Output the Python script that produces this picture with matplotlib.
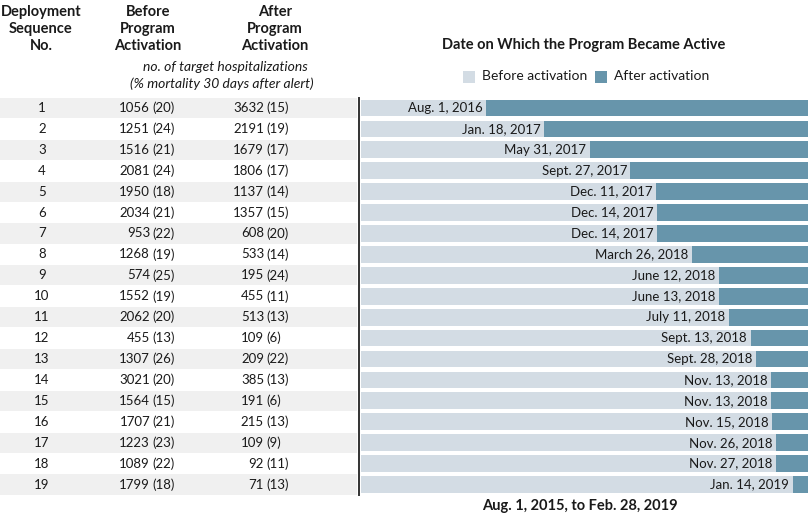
import matplotlib
matplotlib.use("Agg")
import matplotlib.pyplot as plt
import matplotlib.dates as mdates
from matplotlib.patches import Rectangle
import datetime as dt

# ---------------- data ----------------
seq_no = list(range(1, 20))
before_n = [1056, 1251, 1516, 2081, 1950, 2034, 953, 1268, 574, 1552,
            2062, 455, 1307, 3021, 1564, 1707, 1223, 1089, 1799]
before_mort = [20, 24, 21, 24, 18, 21, 22, 19, 25, 19,
               20, 13, 26, 20, 15, 21, 23, 22, 18]
after_n = [3632, 2191, 1679, 1806, 1137, 1357, 608, 533, 195, 455,
           513, 109, 209, 385, 191, 215, 109, 92, 71]
after_mort = [15, 19, 17, 17, 14, 15, 20, 14, 24, 11,
              13, 6, 22, 13, 6, 13, 9, 11, 13]
activation_dates = ["2016-08-01", "2017-01-18", "2017-05-31", "2017-09-27",
                    "2017-12-11", "2017-12-14", "2017-12-14", "2018-03-26",
                    "2018-06-12", "2018-06-13", "2018-07-11", "2018-09-13",
                    "2018-09-28", "2018-11-13", "2018-11-13", "2018-11-15",
                    "2018-11-26", "2018-11-27", "2019-01-14"]
date_labels = ["Aug. 1, 2016", "Jan. 18, 2017", "May 31, 2017", "Sept. 27, 2017",
               "Dec. 11, 2017", "Dec. 14, 2017", "Dec. 14, 2017", "March 26, 2018",
               "June 12, 2018", "June 13, 2018", "July 11, 2018", "Sept. 13, 2018",
               "Sept. 28, 2018", "Nov. 13, 2018", "Nov. 13, 2018", "Nov. 15, 2018",
               "Nov. 26, 2018", "Nov. 27, 2018", "Jan. 14, 2019"]
period_start = "2015-08-01"
period_end = "2019-02-28"

# ---------------- styling ----------------
FONT = ["Lato", "DejaVu Sans"]
plt.rcParams["font.family"] = FONT
C_BEFORE = "#d3dce4"
C_AFTER = "#6795ab"
C_STRIPE = "#f0f0f0"
C_TEXT = "#1a1a1a"

W, H = 810, 518
fig = plt.figure(figsize=(W / 100, H / 100), dpi=100)


def fx(px):
    return px / W


def fy(py):
    return 1 - py / H


row_top, row_bot = 97.5, 495.0
n = len(seq_no)

# ---------------- table axes ----------------
tab_w = 357
axt = fig.add_axes([0, fy(row_bot), fx(tab_w), (row_bot - row_top) / H])
axt.set_xlim(0, tab_w)
axt.set_ylim(n + 0.5, 0.5)
axt.axis("off")

for i, s in enumerate(seq_no):
    y = s
    if s % 2 == 1:
        axt.add_patch(Rectangle((0, y - 0.48), tab_w, 0.96, color=C_STRIPE, lw=0))
    axt.text(42, y, str(s), ha="center", va="center", fontsize=9.5, color=C_TEXT)
    axt.text(150, y, str(before_n[i]), ha="right", va="center", fontsize=9.5, color=C_TEXT)
    axt.text(152.5, y, f"({before_mort[i]})", ha="left", va="center", fontsize=9.5, color=C_TEXT)
    axt.text(264, y, str(after_n[i]), ha="right", va="center", fontsize=9.5, color=C_TEXT)
    axt.text(266.5, y, f"({after_mort[i]})", ha="left", va="center", fontsize=9.5, color=C_TEXT)

# divider line
fig.add_artist(plt.Line2D([fx(359.3), fx(359.3)], [fy(row_top), fy(row_bot)],
                          color="#333333", lw=1.4))

# ---------------- bar axes ----------------
bx0, bx1 = 361, 808
axb = fig.add_axes([fx(bx0), fy(row_bot), (bx1 - bx0) / W, (row_bot - row_top) / H])
start = mdates.date2num(dt.datetime.fromisoformat(period_start))
end = mdates.date2num(dt.datetime.fromisoformat(period_end))
acts = [mdates.date2num(dt.datetime.fromisoformat(d)) for d in activation_dates]

axb.barh(seq_no, [a - start for a in acts], left=start, height=0.8,
         color=C_BEFORE, lw=0)
axb.barh(seq_no, [end - a for a in acts], left=acts, height=0.8,
         color=C_AFTER, lw=0)
for s, a, lab in zip(seq_no, acts, date_labels):
    axb.annotate(lab, (a, s), xytext=(-2.5, 0), textcoords="offset points",
                 ha="right", va="center", fontsize=9.5, color=C_TEXT)
axb.set_xlim(start, end)
axb.set_ylim(n + 0.5, 0.5)
axb.axis("off")

# ---------------- headers ----------------
hdr = dict(ha="center", va="center", fontsize=10.5, fontweight="bold", color=C_TEXT)
for k, line in enumerate(["Deployment", "Sequence", "No."]):
    fig.text(fx(41), fy(12 + 17 * k), line, **hdr)
for k, line in enumerate(["Before", "Program", "Activation"]):
    fig.text(fx(148), fy(12 + 17 * k), line, **hdr)
for k, line in enumerate(["After", "Program", "Activation"]):
    fig.text(fx(275), fy(12 + 17 * k), line, **hdr)

ita = dict(ha="center", va="center", fontsize=10, style="italic", color=C_TEXT)
fig.text(fx(225), fy(67), "no. of target hospitalizations", **ita)
fig.text(fx(222), fy(84), "(% mortality 30 days after alert)", **ita)

fig.text(fx(584), fy(45), "Date on Which the Program Became Active", **hdr)
fig.text(fx(580), fy(506), "Aug. 1, 2015, to Feb. 28, 2019", **hdr)

# legend
for x0, col, lab in [(463, C_BEFORE, "Before activation"), (595, C_AFTER, "After activation")]:
    fig.add_artist(Rectangle((fx(x0), fy(82.5)), 11.5 / W, 11.5 / H,
                             transform=fig.transFigure, color=col, lw=0))
    fig.text(fx(x0 + 19), fy(76.5), lab, ha="left", va="center",
             fontsize=10, color=C_TEXT)

fig.savefig("out.png", dpi=100)
